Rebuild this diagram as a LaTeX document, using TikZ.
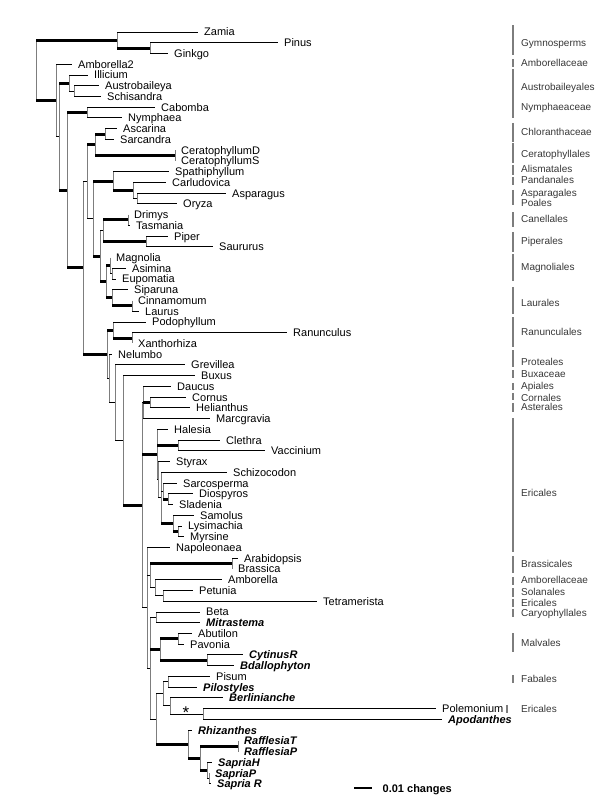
\documentclass[tikz,border=0pt]{standalone}
\usepackage{fontspec}
\setmainfont{Liberation Sans}
\usepackage{tikz}
\usetikzlibrary{calc}
\definecolor{vline}{RGB}{125,125,125}
\definecolor{grp}{RGB}{55,55,55}
\tikzset{
  leaf/.style={anchor=west, inner xsep=6pt, inner ysep=0pt, text height=7.9pt, text depth=0pt,
    font=\fontsize{11}{13}\selectfont},
  para/.style={leaf, font=\fontsize{11}{13}\selectfont\bfseries\itshape},
  br/.style={draw=black, line width=0.9pt},
  thk/.style={draw=black, line width=3pt},
  vl/.style={draw=vline, line width=0.9pt},
  grpbar/.style={draw=vline, line width=1.4pt},
  grplbl/.style={anchor=west, inner sep=0pt, text height=7.2pt, text depth=0pt,
    font=\fontsize{10}{12}\selectfont, text=grp}
}

\begin{document}
\begin{tikzpicture}[x=1pt, y=-10.74pt]
  \useasboundingbox (0,-1.9795) rectangle (600,72.508);
  % tips
  \node[leaf] (zamia) at (198,1) {Zamia};
  \node[leaf] (pinus) at (278,2) {Pinus};
  \node[leaf] (ginkgo) at (168,3) {Ginkgo};
  \node[leaf] (amb2) at (72,4) {Amborella2};
  \node[leaf] (illic) at (88,5) {Illicium};
  \node[leaf] (austro) at (99,6) {Austrobaileya};
  \node[leaf] (schis) at (101,7) {Schisandra};
  \node[leaf] (cabom) at (155,8) {Cabomba};
  \node[leaf] (nymph) at (122,9) {Nymphaea};
  \node[leaf] (ascar) at (117,10) {Ascarina};
  \node[leaf] (sarca) at (114,11) {Sarcandra};
  \node[leaf] (cerD) at (175,12) {CeratophyllumD};
  \node[leaf] (cerS) at (175,13) {CeratophyllumS};
  \node[leaf] (spath) at (169,14) {Spathiphyllum};
  \node[leaf] (carlu) at (166,15) {Carludovica};
  \node[leaf] (aspar) at (226,16) {Asparagus};
  \node[leaf] (oryza) at (177,17) {Oryza};
  \node[leaf] (drimy) at (128,18) {Drimys};
  \node[leaf] (tasma) at (130,19) {Tasmania};
  \node[leaf] (piper) at (168,20) {Piper};
  \node[leaf] (saur) at (213,21) {Saururus};
  \node[leaf] (magno) at (110,22) {Magnolia};
  \node[leaf] (asim) at (126,23) {Asimina};
  \node[leaf] (eupom) at (116,24) {Eupomatia};
  \node[leaf] (sipar) at (128,25) {Siparuna};
  \node[leaf] (cinna) at (132,26) {Cinnamomum};
  \node[leaf] (lauru) at (139,27) {Laurus};
  \node[leaf] (podo) at (146,28) {Podophyllum};
  \node[leaf] (ranun) at (287,29) {Ranunculus};
  \node[leaf] (xanth) at (132,30) {Xanthorhiza};
  \node[leaf] (nelum) at (112,31) {Nelumbo};
  \node[leaf] (grevi) at (185,32) {Grevillea};
  \node[leaf] (buxus) at (195,33) {Buxus};
  \node[leaf] (daucu) at (171,34) {Daucus};
  \node[leaf] (cornu) at (186,35) {Cornus};
  \node[leaf] (helia) at (190,36) {Helianthus};
  \node[leaf] (marcg) at (210,37) {Marcgravia};
  \node[leaf] (hales) at (168,38) {Halesia};
  \node[leaf] (cleth) at (220,39) {Clethra};
  \node[leaf] (vacci) at (265,40) {Vaccinium};
  \node[leaf] (styra) at (170,41) {Styrax};
  \node[leaf] (schiz) at (227,42) {Schizocodon};
  \node[leaf] (sarco) at (177,43) {Sarcosperma};
  \node[leaf] (diosp) at (193,44) {Diospyros};
  \node[leaf] (slade) at (173,45) {Sladenia};
  \node[leaf] (samol) at (194,46) {Samolus};
  \node[leaf] (lysim) at (182,47) {Lysimachia};
  \node[leaf] (myrsi) at (184,48) {Myrsine};
  \node[leaf] (napol) at (170,49) {Napoleonaea};
  \node[leaf] (arabi) at (238,50) {Arabidopsis};
  \node[leaf] (brass) at (232,51) {Brassica};
  \node[leaf] (ambor) at (222,52) {Amborella};
  \node[leaf] (petun) at (193,53) {Petunia};
  \node[leaf] (tetra) at (317,54) {Tetramerista};
  \node[leaf] (beta) at (200,55) {Beta};
  \node[para] (mitra) at (200,56) {Mitrastema};
  \node[leaf] (abuti) at (192,57) {Abutilon};
  \node[leaf] (pavon) at (184,58) {Pavonia};
  \node[para] (cytin) at (243,59) {CytinusR};
  \node[para] (bdall) at (234,60) {Bdallophyton};
  \node[leaf] (pisum) at (210,61) {Pisum};
  \node[para] (pilos) at (197,62) {Pilostyles};
  \node[para] (berli) at (223,63) {Berlinianche};
  \node[leaf] (polem) at (436,64) {Polemonium};
  \node[para] (apoda) at (442,65) {Apodanthes};
  \node[para] (rhiza) at (192,66) {Rhizanthes};
  \node[para] (rafT) at (238,67) {RafflesiaT};
  \node[para] (rafP) at (238,68) {RafflesiaP};
  \node[para] (sapH) at (212,69) {SapriaH};
  \node[para] (sapP) at (209,70) {SapriaP};
  \node[para] (sapR) at (211,71) {Sapria R};
  % inner nodes
  \coordinate (root) at (36,4.56);
  \coordinate (gym) at (117,1.75);
  \coordinate (pg) at (150,2.5);
  \coordinate (ang) at (56,7.37);
  \coordinate (a1) at (59,10.74);
  \coordinate (aus) at (69,5.75);
  \coordinate (as) at (74,6.5);
  \coordinate (n2) at (67,15.74);
  \coordinate (nym) at (87,8.5);
  \coordinate (n3) at (83,22.97);
  \coordinate (n6) at (87,14.94);
  \coordinate (cc) at (95,11.5);
  \coordinate (chl) at (105,10.5);
  \coordinate (cer) at (175,12.5);
  \coordinate (n7) at (93,18.375);
  \coordinate (mon) at (113,14.875);
  \coordinate (mon2) at (133,15.75);
  \coordinate (mon3) at (137,16.5);
  \coordinate (mag) at (100,21.875);
  \coordinate (cp) at (103,19.5);
  \coordinate (can) at (128,18.5);
  \coordinate (pip) at (146,20.5);
  \coordinate (lm) at (106,24.25);
  \coordinate (mgl) at (110,22.75);
  \coordinate (ae) at (112,23.5);
  \coordinate (lau) at (112,25.75);
  \coordinate (cl) at (132,26.5);
  \coordinate (n5) at (107,31.0);
  \coordinate (ran) at (113,28.75);
  \coordinate (rx) at (132,29.5);
  \coordinate (n8) at (109,33.26);
  \coordinate (n9) at (115,35.52);
  \coordinate (n10) at (123,39.03);
  \coordinate (n11) at (142,45.06);
  \coordinate (ast) at (143,35.5);
  \coordinate (ch) at (150,35.5);
  \coordinate (eri) at (157,40.34);
  \coordinate (cv) at (178,39.5);
  \coordinate (re) at (158,42.69);
  \coordinate (rx2) at (161,44.375);
  \coordinate (ssd) at (163,43.75);
  \coordinate (sd) at (168,44.5);
  \coordinate (prim) at (173,46.75);
  \coordinate (lym) at (178,47.5);
  \coordinate (ros) at (147,54.62);
  \coordinate (bz) at (150,51.625);
  \coordinate (ba) at (232,50.5);
  \coordinate (apt) at (155,52.75);
  \coordinate (pt) at (163,53.5);
  \coordinate (w) at (150,60.23);
  \coordinate (bm) at (156,55.5);
  \coordinate (mc) at (160,58.5);
  \coordinate (ap) at (178,57.5);
  \coordinate (cb) at (207,59.5);
  \coordinate (v2) at (156,64.97);
  \coordinate (fab) at (163,62.625);
  \coordinate (pp) at (168,61.5);
  \coordinate (bpa) at (170,63.75);
  \coordinate (pa) at (203,64.5);
  \coordinate (raf) at (188,67.31);
  \coordinate (raf2) at (200,68.625);
  \coordinate (rt) at (238,67.5);
  \coordinate (ss) at (207,69.75);
  \coordinate (spr) at (209,70.5);
  % vertical bars of the clades
  \draw[vl] (root |- gym) -- (root |- ang);
  \draw[vl] (gym |- zamia) -- (gym |- pg);
  \draw[vl] (pg |- pinus) -- (pg |- ginkgo);
  \draw[vl] (ang |- amb2) -- (ang |- a1);
  \draw[vl] (a1 |- aus) -- (a1 |- n2);
  \draw[vl] (aus |- illic) -- (aus |- as);
  \draw[vl] (as |- austro) -- (as |- schis);
  \draw[vl] (n2 |- nym) -- (n2 |- n3);
  \draw[vl] (nym |- cabom) -- (nym |- nymph);
  \draw[vl] (n3 |- n6) -- (n3 |- n5);
  \draw[vl] (n6 |- cc) -- (n6 |- n7);
  \draw[vl] (cc |- chl) -- (cc |- cer);
  \draw[vl] (chl |- ascar) -- (chl |- sarca);
  \draw[vl] (cer |- cerD) -- (cer |- cerS);
  \draw[vl] (n7 |- mon) -- (n7 |- mag);
  \draw[vl] (mon |- spath) -- (mon |- mon2);
  \draw[vl] (mon2 |- carlu) -- (mon2 |- mon3);
  \draw[vl] (mon3 |- aspar) -- (mon3 |- oryza);
  \draw[vl] (mag |- cp) -- (mag |- lm);
  \draw[vl] (cp |- can) -- (cp |- pip);
  \draw[vl] (can |- drimy) -- (can |- tasma);
  \draw[vl] (pip |- piper) -- (pip |- saur);
  \draw[vl] (lm |- mgl) -- (lm |- lau);
  \draw[vl] (mgl |- magno) -- (mgl |- ae);
  \draw[vl] (ae |- asim) -- (ae |- eupom);
  \draw[vl] (lau |- sipar) -- (lau |- cl);
  \draw[vl] (cl |- cinna) -- (cl |- lauru);
  \draw[vl] (n5 |- ran) -- (n5 |- n8);
  \draw[vl] (ran |- podo) -- (ran |- rx);
  \draw[vl] (rx |- ranun) -- (rx |- xanth);
  \draw[vl] (n8 |- nelum) -- (n8 |- n9);
  \draw[vl] (n9 |- grevi) -- (n9 |- n10);
  \draw[vl] (n10 |- buxus) -- (n10 |- n11);
  \draw[vl] (n11 |- ast) -- (n11 |- ros);
  \draw[vl] (ast |- daucu) -- (ast |- marcg);
  \draw[vl] (ch |- cornu) -- (ch |- helia);
  \draw[vl] (eri |- hales) -- (eri |- re);
  \draw[vl] (cv |- cleth) -- (cv |- vacci);
  \draw[vl] (re |- styra) -- (re |- rx2);
  \draw[vl] (rx2 |- schiz) -- (rx2 |- prim);
  \draw[vl] (ssd |- sarco) -- (ssd |- sd);
  \draw[vl] (sd |- diosp) -- (sd |- slade);
  \draw[vl] (prim |- samol) -- (prim |- lym);
  \draw[vl] (lym |- lysim) -- (lym |- myrsi);
  \draw[vl] (ros |- napol) -- (ros |- w);
  \draw[vl] (bz |- ba) -- (bz |- apt);
  \draw[vl] (ba |- arabi) -- (ba |- brass);
  \draw[vl] (apt |- ambor) -- (apt |- pt);
  \draw[vl] (pt |- petun) -- (pt |- tetra);
  \draw[vl] (w |- bm) -- (w |- v2);
  \draw[vl] (bm |- beta) -- (bm |- mitra);
  \draw[vl] (mc |- ap) -- (mc |- cb);
  \draw[vl] (ap |- abuti) -- (ap |- pavon);
  \draw[vl] (cb |- cytin) -- (cb |- bdall);
  \draw[vl] (v2 |- fab) -- (v2 |- raf);
  \draw[vl] (fab |- pp) -- (fab |- bpa);
  \draw[vl] (pp |- pisum) -- (pp |- pilos);
  \draw[vl] (bpa |- berli) -- (bpa |- pa);
  \draw[vl] (pa |- polem) -- (pa |- apoda);
  \draw[vl] (raf |- rhiza) -- (raf |- raf2);
  \draw[vl] (raf2 |- rt) -- (raf2 |- ss);
  \draw[vl] (rt |- rafT) -- (rt |- rafP);
  \draw[vl] (ss |- sapH) -- (ss |- spr);
  \draw[vl] (spr |- sapP) -- (spr |- sapR);
  % branches
  \draw[thk] (root |- gym) -- (gym);
  \draw[thk] (root |- ang) -- (ang);
  \draw[br] (gym |- zamia) -- (zamia);
  \draw[thk] (gym |- pg) -- (pg);
  \draw[br] (pg |- pinus) -- (pinus);
  \draw[br] (pg |- ginkgo) -- (ginkgo);
  \draw[br] (ang |- amb2) -- (amb2);
  \draw[br] (ang |- a1) -- (a1);
  \draw[thk] (a1 |- aus) -- (aus);
  \draw[thk] (a1 |- n2) -- (n2);
  \draw[br] (aus |- illic) -- (illic);
  \draw[br] (aus |- as) -- (as);
  \draw[br] (as |- austro) -- (austro);
  \draw[br] (as |- schis) -- (schis);
  \draw[thk] (n2 |- nym) -- (nym);
  \draw[thk] (n2 |- n3) -- (n3);
  \draw[br] (nym |- cabom) -- (cabom);
  \draw[br] (nym |- nymph) -- (nymph);
  \draw[br] (n3 |- n6) -- (n6);
  \draw[thk] (n3 |- n5) -- (n5);
  \draw[thk] (n6 |- cc) -- (cc);
  \draw[br] (n6 |- n7) -- (n7);
  \draw[thk] (cc |- chl) -- (chl);
  \draw[thk] (cc |- cer) -- (cer);
  \draw[br] (chl |- ascar) -- (ascar);
  \draw[br] (chl |- sarca) -- (sarca);
  \draw[thk] (n7 |- mon) -- (mon);
  \draw[thk] (n7 |- mag) -- (mag);
  \draw[br] (mon |- spath) -- (spath);
  \draw[thk] (mon |- mon2) -- (mon2);
  \draw[br] (mon2 |- carlu) -- (carlu);
  \draw[br] (mon2 |- mon3) -- (mon3);
  \draw[br] (mon3 |- aspar) -- (aspar);
  \draw[br] (mon3 |- oryza) -- (oryza);
  \draw[br] (mag |- cp) -- (cp);
  \draw[thk] (mag |- lm) -- (lm);
  \draw[thk] (cp |- can) -- (can);
  \draw[thk] (cp |- pip) -- (pip);
  \draw[br] (can |- drimy) -- (drimy);
  \draw[br] (can |- tasma) -- (tasma);
  \draw[br] (pip |- piper) -- (piper);
  \draw[br] (pip |- saur) -- (saur);
  \draw[thk] (lm |- mgl) -- (mgl);
  \draw[thk] (lm |- lau) -- (lau);
  \draw[br] (mgl |- magno) -- (magno);
  \draw[br] (mgl |- ae) -- (ae);
  \draw[br] (ae |- asim) -- (asim);
  \draw[br] (ae |- eupom) -- (eupom);
  \draw[br] (lau |- sipar) -- (sipar);
  \draw[thk] (lau |- cl) -- (cl);
  \draw[br] (cl |- cinna) -- (cinna);
  \draw[br] (cl |- lauru) -- (lauru);
  \draw[thk] (n5 |- ran) -- (ran);
  \draw[br] (n5 |- n8) -- (n8);
  \draw[br] (ran |- podo) -- (podo);
  \draw[thk] (ran |- rx) -- (rx);
  \draw[br] (rx |- ranun) -- (ranun);
  \draw[br] (rx |- xanth) -- (xanth);
  \draw[br] (n8 |- nelum) -- (nelum);
  \draw[br] (n8 |- n9) -- (n9);
  \draw[br] (n9 |- grevi) -- (grevi);
  \draw[br] (n9 |- n10) -- (n10);
  \draw[br] (n10 |- buxus) -- (buxus);
  \draw[thk] (n10 |- n11) -- (n11);
  \draw[br] (n11 |- ast) -- (ast);
  \draw[thk] (n11 |- eri) -- (eri);
  \draw[br] (n11 |- ros) -- (ros);
  \draw[br] (ast |- daucu) -- (daucu);
  \draw[thk] (ast |- ch) -- (ch);
  \draw[br] (ast |- marcg) -- (marcg);
  \draw[br] (ch |- cornu) -- (cornu);
  \draw[br] (ch |- helia) -- (helia);
  \draw[br] (eri |- hales) -- (hales);
  \draw[thk] (eri |- cv) -- (cv);
  \draw[br] (eri |- re) -- (re);
  \draw[br] (cv |- cleth) -- (cleth);
  \draw[br] (cv |- vacci) -- (vacci);
  \draw[br] (re |- styra) -- (styra);
  \draw[br] (re |- rx2) -- (rx2);
  \draw[br] (rx2 |- schiz) -- (schiz);
  \draw[br] (rx2 |- ssd) -- (ssd);
  \draw[thk] (rx2 |- prim) -- (prim);
  \draw[br] (ssd |- sarco) -- (sarco);
  \draw[thk] (ssd |- sd) -- (sd);
  \draw[br] (sd |- diosp) -- (diosp);
  \draw[br] (sd |- slade) -- (slade);
  \draw[br] (prim |- samol) -- (samol);
  \draw[thk] (prim |- lym) -- (lym);
  \draw[br] (lym |- lysim) -- (lysim);
  \draw[br] (lym |- myrsi) -- (myrsi);
  \draw[br] (ros |- napol) -- (napol);
  \draw[br] (ros |- bz) -- (bz);
  \draw[br] (ros |- w) -- (w);
  \draw[thk] (bz |- ba) -- (ba);
  \draw[br] (bz |- apt) -- (apt);
  \draw[br] (ba |- arabi) -- (arabi);
  \draw[br] (ba |- brass) -- (brass);
  \draw[br] (apt |- ambor) -- (ambor);
  \draw[br] (apt |- pt) -- (pt);
  \draw[br] (pt |- petun) -- (petun);
  \draw[br] (pt |- tetra) -- (tetra);
  \draw[br] (w |- bm) -- (bm);
  \draw[thk] (w |- mc) -- (mc);
  \draw[br] (w |- v2) -- (v2);
  \draw[br] (bm |- beta) -- (beta);
  \draw[br] (bm |- mitra) -- (mitra);
  \draw[thk] (mc |- ap) -- (ap);
  \draw[thk] (mc |- cb) -- (cb);
  \draw[br] (ap |- abuti) -- (abuti);
  \draw[br] (ap |- pavon) -- (pavon);
  \draw[br] (cb |- cytin) -- (cytin);
  \draw[br] (cb |- bdall) -- (bdall);
  \draw[br] (v2 |- fab) -- (fab);
  \draw[thk] (v2 |- raf) -- (raf);
  \draw[br] (fab |- pp) -- (pp);
  \draw[br] (fab |- bpa) -- (bpa);
  \draw[br] (pp |- pisum) -- (pisum);
  \draw[br] (pp |- pilos) -- (pilos);
  \draw[br] (bpa |- berli) -- (berli);
  \draw[br] (bpa |- pa) -- (pa);
  \draw[br] (pa |- polem) -- (polem);
  \draw[br] (pa |- apoda) -- (apoda);
  \draw[br] (raf |- rhiza) -- (rhiza);
  \draw[thk] (raf |- raf2) -- (raf2);
  \draw[thk] (raf2 |- rt) -- (rt);
  \draw[thk] (raf2 |- ss) -- (ss);
  \draw[br] (rt |- rafT) -- (rafT);
  \draw[br] (rt |- rafP) -- (rafP);
  \draw[br] (ss |- sapH) -- (sapH);
  \draw[br] (ss |- spr) -- (spr);
  \draw[br] (spr |- sapP) -- (sapP);
  \draw[br] (spr |- sapR) -- (sapR);
  \node[font=\fontsize{17}{17}\selectfont, inner sep=0pt, anchor=base] (star) at (186,64.95) {*};
  % orders on the right
  \foreach \ya/\yb/\xb in {0.35/3.14/513, 3.51/4.26/513, 4.45/9.01/513, 9.47/11.24/513,
      11.34/13.2/513, 13.38/14.31/513, 14.5/15.24/513, 15.71/17.11/513, 17.76/19.16/513,
      19.62/21.48/513, 21.67/24.18/513, 24.74/27.26/513, 27.54/30.33/513, 30.61/32.19/513,
      32.47/33.22/513, 33.67/34.33/513, 34.61/35.26/513, 35.54/36.38/513, 36.94/49.42/513,
      49.79/51.37/513, 51.74/52.49/513, 52.77/53.6/513, 53.79/54.54/513, 54.72/55.47/513,
      56.96/58.73/513, 60.87/61.61/513, 63.66/64.41/507}
    \draw[grpbar] (\xb,\ya) -- (\xb,\yb);
  \foreach \yl/\txt [count=\k] in {2.02/Gymnosperms, 3.89/Amborellaceae, 6.12/Austrobaileyales,
      7.98/Nymphaeaceae, 10.31/Chloranthaceae, 12.36/Ceratophyllales, 13.76/Alismatales,
      14.78/Pandanales, 15.99/Asparagales, 16.92/Poales, 18.41/Canellales, 20.46/Piperales,
      22.88/Magnoliales, 26.19/Laurales, 28.93/Ranunculales, 31.73/Proteales, 32.84/Buxaceae,
      33.96/Apiales, 35.08/Cornales, 35.92/Asterales, 43.92/Ericales, 50.53/Brassicales,
      52.02/Amborellaceae, 53.14/Solanales, 54.12/Ericales, 55.1/Caryophyllales,
      57.89/Malvales, 61.24/Fabales, 64.04/Ericales}
    \node[grplbl] (ord\k) at (521,\yl) {\txt};
  % scale bar
  \coordinate (sb1) at (354,71.39);
  \coordinate (sb2) at (372,71.39);
  \draw[line width=2.5pt] (sb1) -- (sb2);
  \node[anchor=west, inner sep=0pt, text height=8pt, text depth=0pt,
    font=\fontsize{11}{13}\selectfont\bfseries] (sbl) at (382.5,71.39) {0.01 changes};
\end{tikzpicture}
\end{document}
